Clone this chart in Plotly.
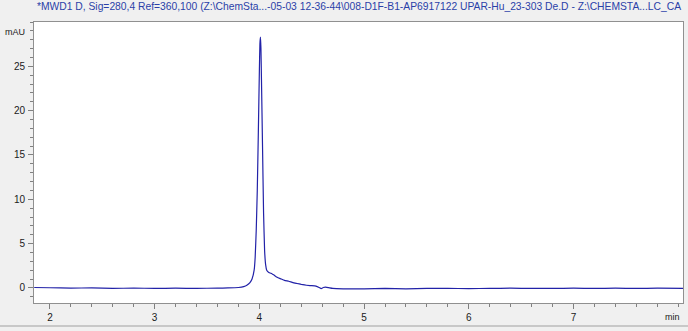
import plotly.graph_objects as go

time_min = [1.85, 2.0, 2.2, 2.4, 2.6, 2.8, 3.0, 3.2, 3.4, 3.6, 3.7, 3.8, 3.85, 3.88,
            3.91, 3.93, 3.95, 3.96, 3.97, 3.98, 3.99, 4.00, 4.005, 4.01, 4.015, 4.02,
            4.03, 4.04, 4.05, 4.06, 4.07, 4.09, 4.12, 4.14, 4.17, 4.20, 4.24, 4.28,
            4.32, 4.36, 4.40, 4.45, 4.50, 4.54, 4.57, 4.59, 4.61, 4.63, 4.66, 4.70,
            4.80, 5.0, 5.2, 5.4, 5.6, 5.8, 6.0, 6.2, 6.4, 6.6, 6.8, 7.0, 7.2, 7.4,
            7.6, 7.8, 8.05]
signal_mau = [0.05, 0.02, -0.02, 0.0, -0.05, -0.02, -0.05, -0.03, -0.05, -0.02, 0.0,
              0.05, 0.15, 0.3, 0.6, 1.0, 2.0, 3.5, 6.5, 11.0, 17.5, 24.5, 27.5, 28.3,
              27.0, 23.5, 16.0, 8.5, 4.2, 2.6, 2.0, 1.75, 1.6, 1.45, 1.2, 1.05, 0.85,
              0.75, 0.6, 0.5, 0.4, 0.3, 0.25, 0.2, 0.05, -0.08, 0.05, 0.08, 0.03, -0.05,
              -0.1, -0.1, -0.05, -0.1, -0.05, -0.05, -0.08, -0.05, -0.03, -0.05, -0.05,
              -0.03, -0.05, -0.03, -0.05, -0.03, -0.05]

x_ticks = [2, 3, 4, 5, 6, 7]
y_ticks = [0, 5, 10, 15, 20, 25]

title_text = ("*MWD1 D, Sig=280,4 Ref=360,100 (Z:\\ChemSta...-05-03 12-36-44\\008-D1F-B1-AP6917122 "
              "UPAR-Hu_23-303 De.D - Z:\\CHEMSTA...LC_CA")

FONT = "Liberation Sans, Arial, sans-serif"

fig = go.Figure()
fig.add_trace(go.Scatter(x=time_min, y=signal_mau, mode="lines",
                         line=dict(color="#2222a8", width=1.2, shape="spline", smoothing=0.3),
                         hoverinfo="skip", showlegend=False))

fig.update_layout(
    width=688, height=331,
    margin=dict(l=34, r=5, t=22, b=28),
    paper_bgcolor="#f0f0f0", plot_bgcolor="white",
    font=dict(family=FONT, size=10, color="#202020"),
    xaxis=dict(range=[1.848, 8.045], tickmode="array", tickvals=x_ticks,
               ticks="outside", ticklen=5,
               tickcolor="#808080", showgrid=False, zeroline=False,
               showline=True, linecolor="#909090", linewidth=1, mirror=True,
               minor=dict(tickmode="linear", dtick=0.2, tick0=2, ticks="outside",
                          ticklen=3, tickcolor="#808080", showgrid=False),
               tickfont=dict(size=10)),
    yaxis=dict(range=[-1.7, 30], tickmode="array", tickvals=y_ticks,
               ticks="outside", ticklen=5,
               tickcolor="#808080", showgrid=False, zeroline=False,
               showline=True, linecolor="#909090", linewidth=1, mirror=True,
               minor=dict(tickmode="linear", dtick=1, tick0=0, ticks="outside",
                          ticklen=3, tickcolor="#808080", showgrid=False),
               ticklabelstandoff=1,
               tickfont=dict(size=10)),
    annotations=[
        dict(text=title_text, xref="paper", yref="paper", x=1.0, y=1.0, xanchor="right",
             yanchor="bottom", yshift=8, showarrow=False,
             font=dict(family=FONT, size=10.3, color="#2a3fa8")),
        dict(text="mAU", xref="paper", yref="paper", x=0, xshift=-7, y=1.0, yshift=-3,
             xanchor="right", yanchor="top", showarrow=False, font=dict(size=9, color="#202020")),
        dict(text="min", xref="paper", yref="paper", x=1.0, xshift=-1, y=0, yshift=-7,
             xanchor="right", yanchor="top", showarrow=False, font=dict(size=9, color="#202020")),
    ],
    shapes=[dict(type="line", xref="paper", yref="paper", x0=-0.1, x1=1.1,
                 ysizemode="pixel", yanchor=0, y0=-23, y1=-23,
                 line=dict(color="#a0a0a0", width=1))],
)

fig.write_html("out.html")
